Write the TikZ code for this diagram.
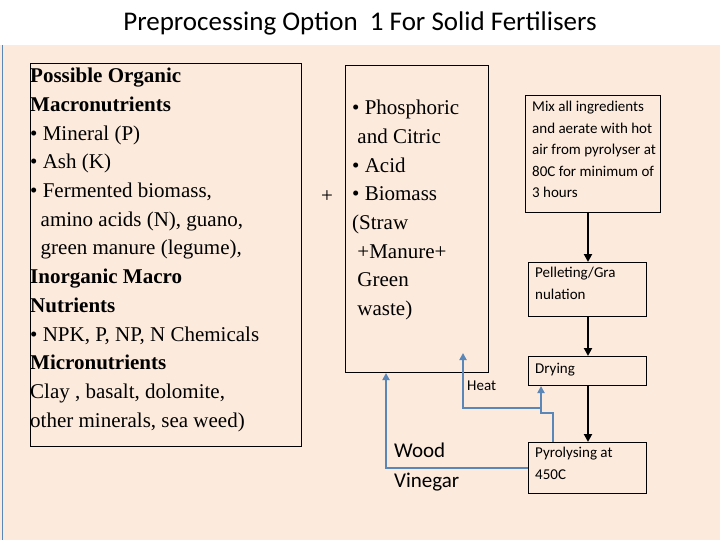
\documentclass[tikz,border=0pt]{standalone}
\usepackage{fontspec}
\setmainfont{Liberation Serif}
\newfontfamily\calfont{Carlito}
\usetikzlibrary{arrows.meta}
\definecolor{bg}{HTML}{FCEADC}
\definecolor{bl}{HTML}{5B86B8}
\begin{document}
\begin{tikzpicture}[x=1pt,y=-1pt,
  bx/.style={draw,line width=1pt,inner sep=0},
  big/.style={font=\fontsize{21}{28.7}\selectfont},
  sm/.style={font=\calfont\fontsize{15}{21.5}\selectfont},
  flow/.style={line width=2.2pt,-{Triangle[length=8pt,width=8pt]}},
  blu/.style={draw=bl,line width=2.5pt},
  blua/.style={blu,-{Triangle[length=7pt,width=7pt]}}]
\fill[bg] (0,0) rectangle (720,540);
\fill[white] (0,0) rectangle (720,45);
\useasboundingbox (0,0) rectangle (720,540);
\draw[bl,line width=1pt] (2,45) -- (2,540);
\node[font=\calfont\fontsize{27}{30}\selectfont] (title) at (360,23) {Preprocessing Option\ \ 1 For Solid Fertilisers};
\node[bx,minimum width=271pt,minimum height=383pt,anchor=north west] (left) at (30,63) {};
\node[big,anchor=north west,align=left,inner sep=0] (lt) at (30,68) {%
\textbf{Possible Organic}\\ \textbf{Macronutrients}\\ • Mineral (P)\\ • Ash (K)\\ • Fermented biomass,\\ \ \ amino acids (N), guano,\\ \ \ green manure (legume),\\ \textbf{Inorganic Macro}\\ \textbf{Nutrients}\\ • NPK, P, NP, N Chemicals\\ \textbf{Micronutrients}\\ Clay , basalt, dolomite,\\ other minerals, sea weed)};
\node[bx,minimum width=143pt,minimum height=307pt,anchor=north west] (mid) at (345,65) {};
\node[big,anchor=north west,align=left,inner sep=0] (mt) at (352,100) {%
• Phosphoric\\ \ and Citric\\ • Acid\\ • Biomass\\ (Straw\\ \ +Manure+\\ \ Green\\ \ waste)};
\node[big] (plus) at (327,197) {+};
\node[bx,minimum width=135pt,minimum height=117pt,anchor=north west] (mix) at (525,95) {};
\node[sm,anchor=north west,align=left,inner sep=0] (mixt) at (532,101) {Mix all ingredients\\ and aerate with hot\\ air from pyrolyser at\\ 80C for minimum of\\ 3 hours};
\node[bx,minimum width=118pt,minimum height=54pt,anchor=north west] (pel) at (528,262) {};
\node[sm,anchor=north west,align=left,inner sep=0] (pelt) at (535,267) {Pelleting/Gra\\ nulation};
\node[bx,minimum width=118pt,minimum height=29pt,anchor=north west] (dry) at (528,356) {};
\node[sm,anchor=west,inner sep=0] (dryt) at (535,370) {Drying};
\node[bx,minimum width=118pt,minimum height=51pt,anchor=north west] (pyr) at (528,442) {};
\node[sm,anchor=north west,align=left,inner sep=0] (pyrt) at (535,447) {Pyrolysing at\\ 450C};
\node[sm,anchor=west,inner sep=0] (heat) at (467,386) {Heat};
\node[font=\calfont\fontsize{21}{30}\selectfont,anchor=north west,align=left,inner sep=0] (wv) at (394,443) {Wood\\ Vinegar};
\draw[flow] (588,212) -- (pel.north -| 588,0);
\draw[flow] (588,316) -- (dry.north -| 588,0);
\draw[flow] (588,385) -- (pyr.north -| 588,0);
\coordinate (h1) at (553,442);
\draw[blu] (h1) -- (553,413) -- (541,413) -- (541,408);
\draw[blua] (541,409) -- (dry.south -| 541,0);
\draw[blua] (541,408) -- (463,408) -- (463,353);
\draw[blua] (pyr.west) -- (386,468) -- (mid.south -| 386,0);
\end{tikzpicture}
\end{document}
